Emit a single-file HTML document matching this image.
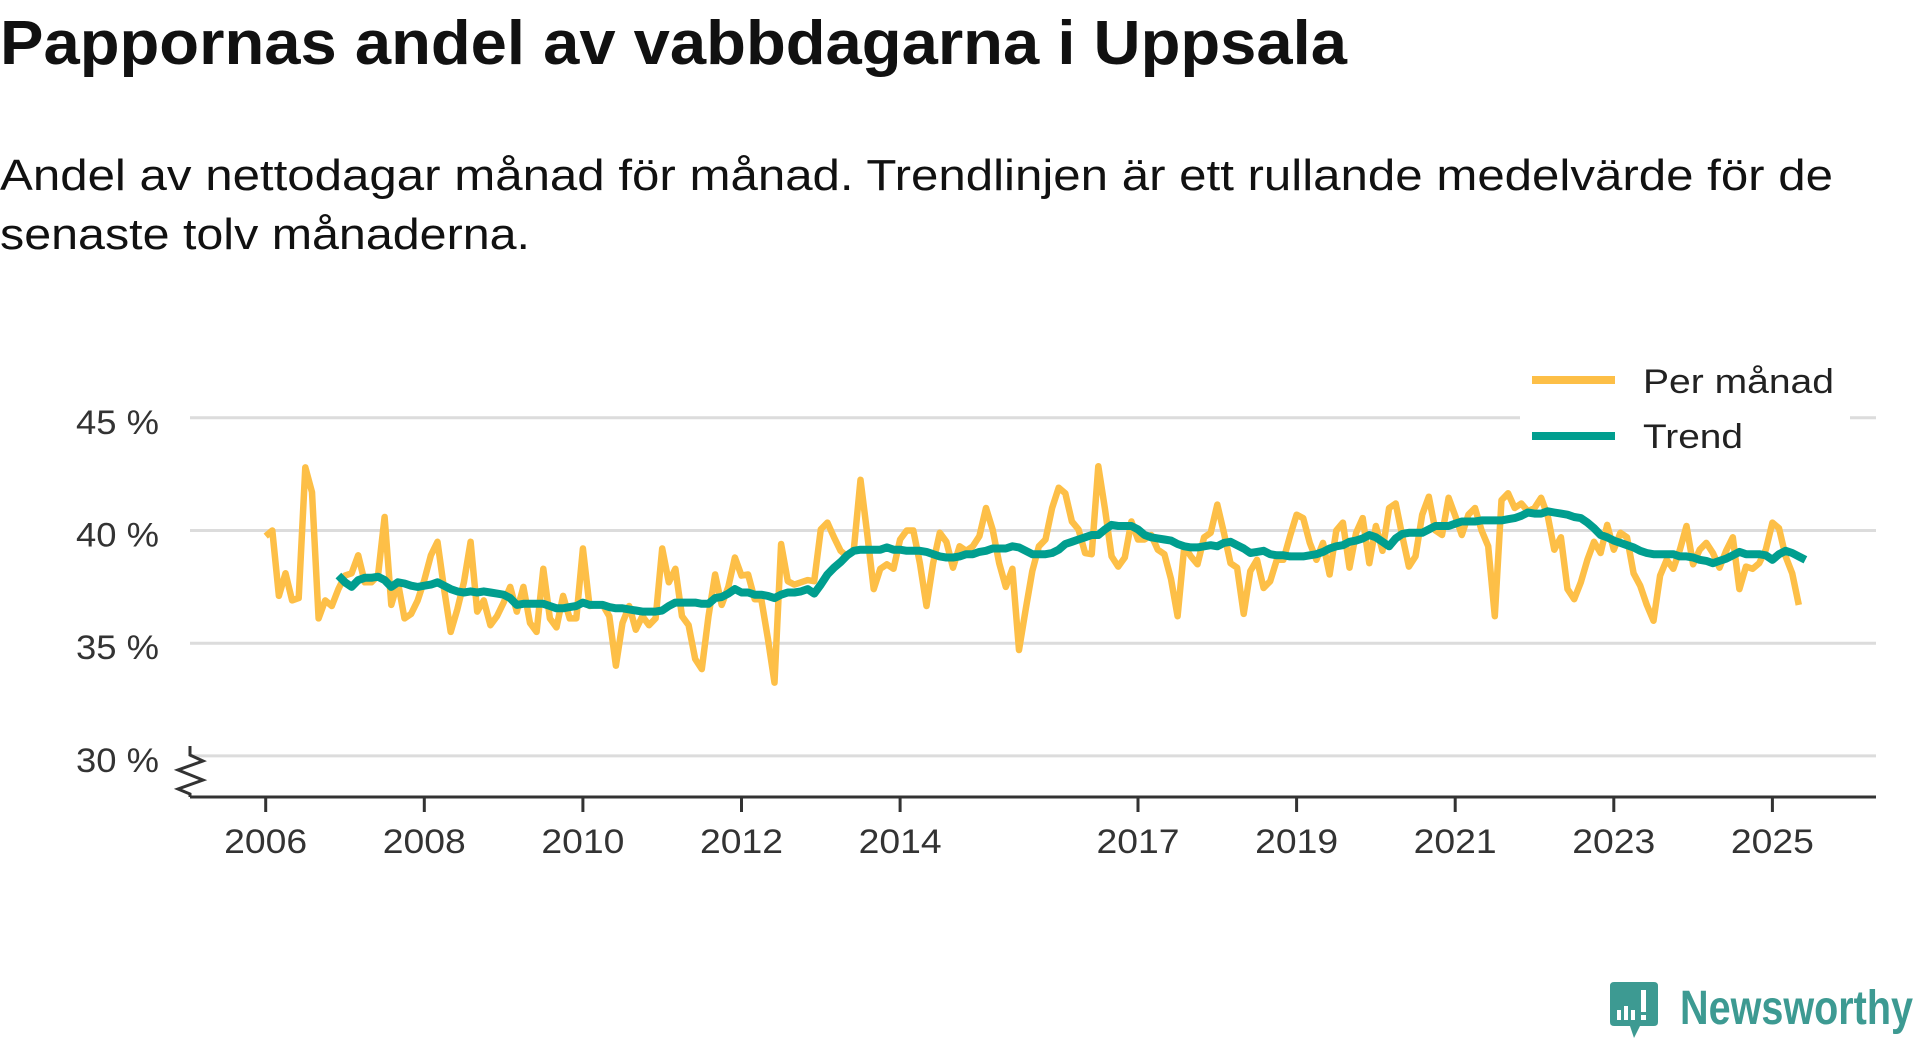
<!DOCTYPE html>
<html><head><meta charset="utf-8"><style>
html,body{margin:0;padding:0;background:#fff;}
svg{display:block;font-family:"Liberation Sans",sans-serif;}
</style></head><body>
<svg id="chart" width="1920" height="1040" viewBox="0 0 1920 1040">
<text x="0" y="64" font-size="62" font-weight="bold" fill="#111" textLength="1347" lengthAdjust="spacingAndGlyphs">Pappornas andel av vabbdagarna i Uppsala</text>
<text x="0" y="190" font-size="44" fill="#111" textLength="1833" lengthAdjust="spacingAndGlyphs">Andel av nettodagar månad för månad. Trendlinjen är ett rullande medelvärde för de</text>
<text x="0" y="249" font-size="44" fill="#111" textLength="530" lengthAdjust="spacingAndGlyphs">senaste tolv månaderna.</text>
<g id="grid"></g>
<g id="yaxis"></g>
<g id="xaxis"></g>
<g id="series"></g>
<g>
<rect x="1520" y="408" width="330" height="14" fill="#fff"/>
<line x1="1532" y1="380" x2="1615" y2="380" stroke="#fdbf47" stroke-width="8"/>
<text x="1643" y="393" font-size="34" fill="#222" textLength="191" lengthAdjust="spacingAndGlyphs">Per månad</text>
<line x1="1532" y1="436" x2="1615" y2="436" stroke="#009e8f" stroke-width="8"/>
<text x="1643" y="448" font-size="34" fill="#222" textLength="100" lengthAdjust="spacingAndGlyphs">Trend</text>
</g>
<g>
<path d="M1614 982 H1654 Q1658 982 1658 986 V1022 Q1658 1026 1654 1026 H1640 L1634 1038 L1630 1026 H1614 Q1610 1026 1610 1022 V986 Q1610 982 1614 982 Z" fill="#3d9a92"/>
<rect x="1617" y="1010" width="4" height="10" fill="#fff"/>
<rect x="1624" y="1006" width="4" height="14" fill="#fff"/>
<rect x="1631" y="1010" width="4" height="10" fill="#fff"/>
<rect x="1641" y="990" width="5" height="22" fill="#fff"/>
<rect x="1641" y="1015" width="5" height="5" fill="#fff"/>
<text x="1680" y="1024" font-size="48" font-weight="bold" fill="#3d9a92" textLength="233" lengthAdjust="spacingAndGlyphs">Newsworthy</text>
</g>
</svg>
<script>
const yTickValues = [30, 35, 40, 45];
const yTickLabels = ["30 %", "35 %", "40 %", "45 %"];
const xTickYears = [2006, 2008, 2010, 2012, 2014, 2017, 2019, 2021, 2023, 2025];
const startYear = 2006;
const monthly = [39.75,40.0,37.1,38.1,36.9,37.0,42.8,41.7,36.1,36.9,36.65,37.4,
38.0,38.1,38.9,37.7,37.7,38.0,40.6,36.7,37.7,36.1,36.3,36.9,
37.8,38.9,39.5,37.4,35.5,36.5,37.7,39.5,36.4,36.9,35.8,36.2,
36.8,37.5,36.4,37.5,35.9,35.5,38.3,36.1,35.7,37.1,36.1,36.1,
39.2,36.65,36.7,36.7,36.2,34.0,35.9,36.65,35.6,36.2,35.8,36.1,
39.2,37.7,38.3,36.2,35.8,34.3,33.85,36.2,38.05,36.7,37.5,38.8,
38.0,38.05,36.95,36.95,35.2,33.25,39.4,37.75,37.6,37.7,37.8,37.75,
40.05,40.35,39.7,39.1,38.85,39.15,42.25,39.9,37.4,38.3,38.5,38.3,
39.6,40.0,40.0,38.55,36.65,38.55,39.9,39.5,38.35,39.3,39.1,39.3,
39.75,41.0,40.05,38.55,37.5,38.3,34.7,36.5,38.2,39.3,39.6,41.0,
41.9,41.65,40.4,40.05,39.0,38.95,42.85,40.95,38.85,38.4,38.8,40.4,
39.6,39.6,39.8,39.15,38.95,37.85,36.2,39.3,38.85,38.5,39.7,39.9,
41.15,39.9,38.55,38.35,36.3,38.2,38.7,37.45,37.75,38.7,38.7,39.75,
40.7,40.55,39.45,38.7,39.45,38.05,40.0,40.35,38.35,39.9,40.55,38.55,
40.2,39.1,41.0,41.2,39.75,38.4,38.85,40.7,41.5,40.0,39.8,41.45,
40.65,39.8,40.7,41.0,40.0,39.3,36.2,41.35,41.65,41.0,41.2,40.85,
41.0,41.45,40.65,39.15,39.7,37.4,36.95,37.7,38.7,39.5,39.0,40.25,
39.15,39.9,39.7,38.1,37.55,36.7,36.0,38.0,38.7,38.3,39.15,40.2,
38.5,39.15,39.45,39.0,38.35,39.1,39.7,37.4,38.4,38.3,38.55,39.15,
40.35,40.1,38.85,38.1,36.7];
const trendStart = 11;
const trend = [38.0,
37.7,37.5,37.8,37.9,37.9,37.95,37.8,37.5,37.7,37.65,37.55,37.5,
37.55,37.6,37.7,37.55,37.4,37.3,37.25,37.3,37.25,37.3,37.25,37.2,
37.15,37.0,36.7,36.75,36.75,36.75,36.75,36.65,36.55,36.55,36.6,36.65,
36.8,36.7,36.7,36.7,36.6,36.55,36.55,36.5,36.45,36.4,36.4,36.4,
36.45,36.65,36.8,36.8,36.8,36.8,36.75,36.75,37.0,37.05,37.2,37.4,
37.25,37.25,37.15,37.15,37.1,37.0,37.15,37.25,37.25,37.3,37.4,37.2,
37.6,38.05,38.35,38.6,38.9,39.1,39.15,39.15,39.15,39.15,39.25,39.15,
39.15,39.1,39.1,39.1,39.05,38.95,38.85,38.8,38.8,38.85,38.95,38.95,
39.05,39.1,39.2,39.2,39.2,39.3,39.25,39.1,38.95,38.95,38.95,39.0,
39.15,39.4,39.5,39.6,39.7,39.8,39.8,40.05,40.25,40.2,40.2,40.2,
40.05,39.8,39.7,39.65,39.6,39.55,39.4,39.3,39.25,39.25,39.3,39.35,
39.3,39.45,39.5,39.35,39.2,39.0,39.05,39.1,38.95,38.9,38.9,38.85,
38.85,38.85,38.9,38.95,39.05,39.2,39.3,39.35,39.5,39.55,39.65,39.8,
39.7,39.5,39.3,39.65,39.85,39.9,39.9,39.9,40.05,40.2,40.2,40.2,
40.3,40.4,40.4,40.4,40.45,40.45,40.45,40.45,40.5,40.55,40.65,40.8,
40.75,40.75,40.85,40.8,40.75,40.7,40.6,40.55,40.35,40.1,39.8,39.7,
39.55,39.45,39.35,39.25,39.1,39.0,38.95,38.95,38.95,38.95,38.85,38.85,
38.8,38.7,38.65,38.55,38.65,38.75,38.9,39.05,38.95,38.95,38.95,38.9,
38.7,38.95,39.1,39.0,38.85,38.7];

const NS = "http://www.w3.org/2000/svg";
const plotLeft = 190, plotRight = 1876;
const xOrigin = 265.7, pxPerYear = 79.3;
function xScale(yearFrac){ return xOrigin + (yearFrac - startYear) * pxPerYear; }
function xMonth(i){ return xScale(startYear + i / 12); }
function yScale(v){ return 530.5 - (v - 40) * 22.54; }
function mk(tag, attrs, parent){
  const el = document.createElementNS(NS, tag);
  for (const k in attrs) el.setAttribute(k, attrs[k]);
  parent.appendChild(el);
  return el;
}
const grid = document.getElementById('grid');
const yaxis = document.getElementById('yaxis');
const xaxis = document.getElementById('xaxis');
const series = document.getElementById('series');

yTickValues.forEach((v, i) => {
  const g = mk('line', {x1: plotLeft, x2: plotRight, y1: yScale(v), y2: yScale(v), stroke: '#dcdcdc', 'stroke-width': 3}, grid);
  
  
  const t = mk('text', {x: 76, y: yScale(v) + 16, 'font-size': 34, fill: '#333', textLength: 83, lengthAdjust: 'spacingAndGlyphs'}, yaxis);
  t.textContent = yTickLabels[i];
  
  
});

const axisLine = mk('line', {x1: plotLeft, x2: plotRight, y1: 797, y2: 797, stroke: '#333', 'stroke-width': 3}, xaxis);


const zig = mk('polyline', {points: '190,746 190,755 203,761 178,770 203,780 178,789 190,794 190,797', fill: 'none', stroke: '#333', 'stroke-width': 3}, yaxis);



xTickYears.forEach(yr => {
  const x = xScale(yr);
  const tk = mk('line', {x1: x, x2: x, y1: 797, y2: 812, stroke: '#333', 'stroke-width': 3}, xaxis);
  
  
  const t = mk('text', {x: x - 41.5, y: 853, 'font-size': 34, fill: '#333', textLength: 83, lengthAdjust: 'spacingAndGlyphs'}, xaxis);
  t.textContent = String(yr);
  
  
});

const mPts = monthly.map((v, i) => xMonth(i).toFixed(1) + ',' + yScale(v).toFixed(1)).join(' ');
const mLine = mk('polyline', {points: mPts, fill: 'none', stroke: '#fdbf47', 'stroke-width': 6.5, 'stroke-linejoin': 'round'}, series);



const tPts = trend.map((v, i) => xMonth(i + trendStart).toFixed(1) + ',' + yScale(v).toFixed(1)).join(' ');
const tLine = mk('polyline', {points: tPts, fill: 'none', stroke: '#009e8f', 'stroke-width': 8, 'stroke-linejoin': 'round'}, series);


</script>
</body></html>
